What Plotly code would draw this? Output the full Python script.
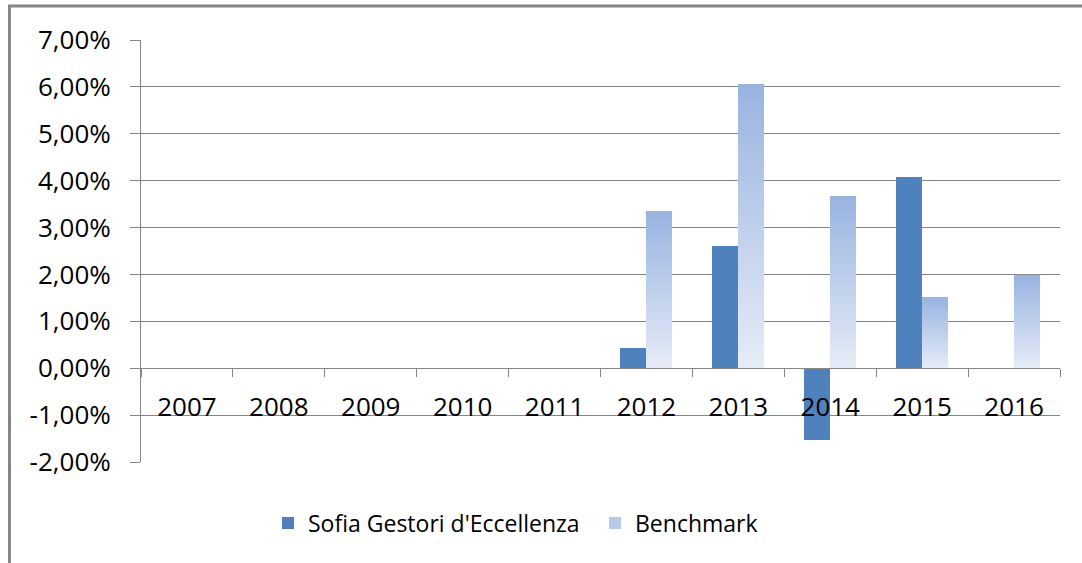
import plotly.graph_objects as go

years = ["2007", "2008", "2009", "2010", "2011", "2012", "2013", "2014", "2015", "2016"]
sofia = [None, None, None, None, None, 0.43, 2.60, -1.54, 4.08, None]
benchmark = [None, None, None, None, None, 3.35, 6.07, 3.67, 1.52, 1.99]
y_tickvals = [-2, -1, 0, 1, 2, 3, 4, 5, 6, 7]
y_ticktext = ["-2,00%", "-1,00%", "0,00%", "1,00%", "2,00%", "3,00%", "4,00%", "5,00%", "6,00%", "7,00%"]

GREY = "#868686"
FONT = "Open Sans"
W, H = 1082, 563
ML, MR, MT, MB = 141, 22, 40, 101
PW, PH = W - ML - MR, H - MT - MB

top_rgb = (152, 179, 225)
bot_rgb = (230, 236, 247)
N = 40

fig = go.Figure()
fig.add_trace(go.Bar(x=years, y=sofia, name="Sofia Gestori d'Eccellenza",
                     marker=dict(color="#4F81BD", line=dict(width=0)),
                     offsetgroup="a"))

legend_k = int(N * 0.6)
for k in range(N):
    t = (k + 0.5) / N  # 0 at bottom, 1 at top
    c = tuple(round(bot_rgb[i] + (top_rgb[i] - bot_rgb[i]) * t) for i in range(3))
    fig.add_trace(go.Bar(
        x=years,
        y=[None if v is None else v / N for v in benchmark],
        base=[None if v is None else v * k / N for v in benchmark],
        name="Benchmark",
        marker=dict(color="rgb(%d,%d,%d)" % c, line=dict(width=0)),
        offsetgroup="b", legendgroup="bench",
        showlegend=(k == legend_k), hoverinfo="skip",
    ))

def px_x(p):
    return (p - ML) / PW

def px_y(p):
    return (MT + PH - p) / PH

fig.update_layout(
    width=W, height=H, autosize=False,
    margin=dict(l=ML, r=MR, t=MT, b=MB),
    paper_bgcolor="white", plot_bgcolor="white",
    barmode="group", bargap=0.434, bargroupgap=0,
    font=dict(family=FONT, color="black"),
    showlegend=True,
    legend=dict(orientation="h", x=px_x(268), xanchor="left", y=px_y(523), yanchor="middle",
                font=dict(size=23, family=FONT, color="black"), bgcolor="rgba(0,0,0,0)",
                traceorder="normal", entrywidth=282),
    xaxis=dict(type="category", anchor="free", position=2 / 9, domain=[0, 1],
               showline=True, linecolor=GREY, linewidth=1,
               ticks="outside", tickson="boundaries", ticklen=8, tickcolor=GREY, tickwidth=1,
               showgrid=False, tickfont=dict(size=26, family=FONT, color="black"),
               ticklabelstandoff=16),
    yaxis=dict(range=[-2, 7], tickvals=y_tickvals, ticktext=y_ticktext,
               showgrid=True, gridcolor=GREY, gridwidth=1, zeroline=False,
               showline=True, linecolor=GREY, linewidth=1,
               ticks="outside", ticklen=10, tickcolor=GREY, tickwidth=1,
               tickfont=dict(size=26, family=FONT, color="black"),
               ticklabelstandoff=14),
    shapes=[dict(type="rect", xref="paper", yref="paper",
                 x0=px_x(9.5), x1=px_x(1200), y0=px_y(700), y1=px_y(6),
                 line=dict(color=GREY, width=3), fillcolor="rgba(0,0,0,0)", layer="above")],
)

post = (
    "document.body.style.margin='0';"
    "var st=document.createElement('style');"
    "st.textContent='.bars path{shape-rendering:crispEdges !important;}';"
    "document.head.appendChild(st);"
)
fig.write_html("out.html", config={"displayModeBar": False}, post_script=post)
